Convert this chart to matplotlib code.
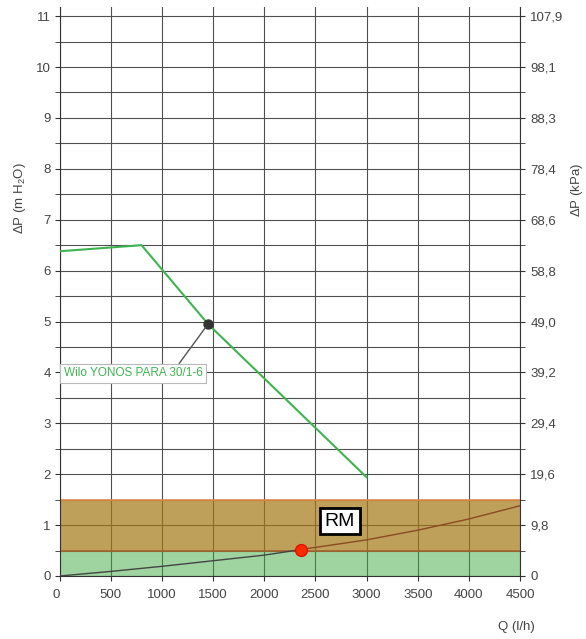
import matplotlib
matplotlib.use("Agg")
import matplotlib.pyplot as plt
from matplotlib.ticker import MultipleLocator, FixedLocator

plt.rcParams["font.family"] = ["Liberation Sans", "DejaVu Sans"]
plt.rcParams["mathtext.fontset"] = "custom"
plt.rcParams["mathtext.rm"] = "Liberation Sans"

# ==========================================
# DATA
# ==========================================

# pump curve (Q in l/h, dP in m H2O)
pump_q = [0, 800, 1450, 3000]
pump_dp = [6.38, 6.5, 4.95, 1.94]
pump_name = "Wilo YONOS PARA 30/1-6"
pump_point = (1450, 4.95)

# system curve up to operating point, then its extension
sys_q = [0, 500, 1000, 1500, 2000, 2360]
sys_dp = [0, 0.09, 0.19, 0.30, 0.41, 0.52]
ext_q = [2360, 3000, 3500, 4000, 4500]
ext_dp = [0.52, 0.71, 0.90, 1.12, 1.38]
op_point = (2360, 0.52)

# bands
green_band = (0, 0.5)
rm_band = (0.5, 1.5)
rm_label = "RM"

x_ticks = [0, 500, 1000, 1500, 2000, 2500, 3000, 3500, 4000, 4500]
left_ticks = list(range(0, 12))
kpa_labels = ["0", "9,8", "19,6", "29,4", "39,2", "49,0",
              "58,8", "68,6", "78,4", "88,3", "98,1", "107,9"]

# ==========================================
# FIGURE
# ==========================================

fig = plt.figure(figsize=(5.86, 6.39), dpi=100)
ax = fig.add_axes([0.1019, 0.0986, 0.7855, 0.8905])

ax.set_xlim(0, 4500)
ax.set_ylim(0, 11.18)

ax.xaxis.set_major_locator(FixedLocator(x_ticks))
ax.yaxis.set_major_locator(FixedLocator(left_ticks))
ax.yaxis.set_minor_locator(MultipleLocator(0.5))

ax.grid(True, which="both", color="#505050", linewidth=0.8)
ax.set_axisbelow(True)

for side in ["top", "right"]:
    ax.spines[side].set_visible(False)
ax.spines["left"].set_color("#333333")
ax.spines["bottom"].set_color("#333333")

ax.tick_params(axis="both", which="major", length=3.5, color="#333333",
               labelsize=9.5, labelcolor="#444444", pad=3)
ax.tick_params(axis="y", which="minor", length=3.5, color="#333333")
ax.tick_params(axis="x", pad=6)

# bands
ax.axhspan(green_band[0], green_band[1], facecolor=(0.25, 0.66, 0.25),
           alpha=0.5, edgecolor="none", zorder=1)
ax.axhspan(rm_band[0], rm_band[1], facecolor=(0.64, 0.47, 0.08),
           alpha=0.7, edgecolor="none", zorder=1)
ax.axhline(rm_band[1], color="#e0884a", linewidth=1.2, zorder=2)
ax.axhline(rm_band[0], color="#a8612e", linewidth=1.2, zorder=2)
ax.axvline(0, ymin=rm_band[0] / 11.18, ymax=rm_band[1] / 11.18,
           color="#e0884a", linewidth=1.5, zorder=2)

# system curve
ax.plot(sys_q, sys_dp, color="#444444", linewidth=1.0, zorder=3)
ax.plot(ext_q, ext_dp, color="#8a4a22", linewidth=1.0, zorder=3)

# pump curve
ax.plot(pump_q, pump_dp, color="#3db44f", linewidth=1.5, zorder=4)
ax.plot(*pump_point, "o", color="#333333", markersize=6.5, zorder=5)

ax.annotate(
    pump_name,
    xy=pump_point,
    xytext=(40, 3.98),
    ha="left",
    va="center",
    fontsize=8.5,
    color="#3db44f",
    bbox=dict(boxstyle="square,pad=0.3", facecolor="white",
              edgecolor="#b8b8b8", linewidth=0.8),
    arrowprops=dict(arrowstyle="-", color="#555555", linewidth=1.0,
                    relpos=(0.81, 1.0), shrinkA=0, shrinkB=3),
    zorder=6,
)

# operating point
ax.plot(*op_point, "o", color="#ff2a00", markeredgecolor="#e01000",
        markersize=8.5, zorder=6)

ax.text(2740, 1.08, rm_label, ha="center", va="center", fontsize=14,
        color="black", zorder=6,
        bbox=dict(boxstyle="square,pad=0.25", facecolor="white",
                  edgecolor="black", linewidth=2))

# first x label sits left of the axis
first = ax.get_xticklabels()[0]
first.set_horizontalalignment("right")

# ==========================================
# RIGHT AXIS (kPa)
# ==========================================

ax2 = ax.twinx()
ax2.set_ylim(ax.get_ylim())
ax2.yaxis.set_major_locator(FixedLocator(left_ticks))
ax2.set_yticklabels(kpa_labels)
ax2.yaxis.set_minor_locator(MultipleLocator(0.5))
for side in ["top", "left", "bottom"]:
    ax2.spines[side].set_visible(False)
ax2.spines["right"].set_color("#333333")
ax2.tick_params(axis="y", which="both", length=3.5, color="#333333",
                labelsize=9.5, labelcolor="#444444", pad=4)

# ==========================================
# AXIS TITLES
# ==========================================

fig.text(20 / 586, 1 - 198 / 639, r"$\Delta$P (m H$_\mathregular{2}$O)",
         rotation=90, ha="center", va="center", fontsize=9.5, color="#444444")
fig.text(577 / 586, 1 - 190 / 639, r"$\Delta$P (kPa)",
         rotation=90, ha="center", va="center", fontsize=9.5, color="#444444")
fig.text(535 / 586, 1 - 627 / 639, "Q (l/h)",
         ha="right", va="center", fontsize=9.5, color="#444444")

fig.savefig("out.png", dpi=100)
